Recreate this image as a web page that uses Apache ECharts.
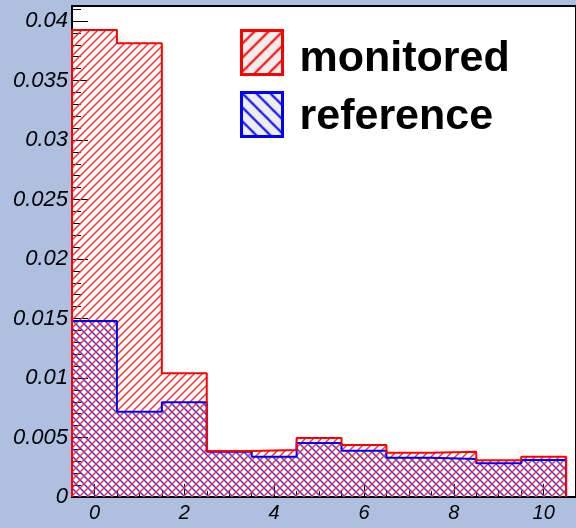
<!DOCTYPE html>
<html>
<head>
<meta charset="utf-8">
<script src="https://cdn.jsdelivr.net/npm/echarts@6.0.0/dist/echarts.min.js"></script>
<style>
  html, body { margin: 0; padding: 0; background: #afbfe0; }
  #main { width: 576px; height: 528px; }
</style>
</head>
<body>
<div id="main"></div>
<script>
// bin centres (bin width 1)
var binCenters = [0, 1, 2, 3, 4, 5, 6, 7, 8, 9, 10];
var monitored = [0.03924, 0.03812, 0.01039, 0.00387, 0.00394, 0.00496, 0.00437, 0.00372, 0.00381, 0.00308, 0.00339];
var reference = [0.01479, 0.00717, 0.00796, 0.00380, 0.00339, 0.00454, 0.00389, 0.00330, 0.00319, 0.00283, 0.00311];
var xTickLabels = [0, 2, 4, 6, 8, 10];
var yTickLabels = [0, 0.005, 0.01, 0.015, 0.02, 0.025, 0.03, 0.035, 0.04];

var xMin = -0.5, xMax = 10.72, yMax = 0.04126;

// hatch pattern canvas, dir 1 = "/" , -1 = "\"
function hatch(size, color, width, dir, bg) {
    var c = document.createElement('canvas');
    c.width = size; c.height = size;
    var ctx = c.getContext('2d');
    if (bg) { ctx.fillStyle = bg; ctx.fillRect(0, 0, size, size); }
    ctx.strokeStyle = color;
    ctx.lineWidth = width;
    ctx.beginPath();
    for (var k = -1; k <= 1; k++) {
        if (dir > 0) {
            ctx.moveTo(k * size - 1, size + 1);
            ctx.lineTo(k * size + size + 1, -1);
        } else {
            ctx.moveTo(k * size - 1, -1);
            ctx.lineTo(k * size + size + 1, size + 1);
        }
    }
    ctx.stroke();
    return { image: c, repeat: 'repeat' };
}

// outline points of a step histogram
function stepPoints(vals) {
    var pts = [[binCenters[0] - 0.5, 0]];
    for (var i = 0; i < vals.length; i++) {
        pts.push([binCenters[i] + 0.5, vals[i]]);
    }
    pts.push([binCenters[binCenters.length - 1] + 0.5, 0]);
    return pts;
}

var labelFont = { fontFamily: 'Liberation Sans', fontStyle: 'italic', color: '#000' };

var myChart = echarts.init(document.getElementById('main'));
var option = {
    backgroundColor: '#afbfe0',
    animation: false,
    grid: {
        left: 72, top: 6, bottom: 31, right: -20,
        show: true, backgroundColor: '#fff', borderColor: '#000', borderWidth: 2
    },
    legend: {
        orient: 'vertical',
        left: 240, top: 29, padding: 0,
        itemWidth: 41, itemHeight: 44, itemGap: 10,
        selectedMode: false,
        formatter: function (name) {
            return '{' + (name === 'monitored' ? 'a' : 'b') + '|' + name + '}';
        },
        textStyle: {
            fontFamily: 'Liberation Sans', fontWeight: 'bold', fontSize: 43, color: '#000',
            rich: {
                a: { fontFamily: 'Liberation Sans', fontWeight: 'bold', fontSize: 43, padding: [14, 0, 0, 12] },
                b: { fontFamily: 'Liberation Sans', fontWeight: 'bold', fontSize: 43, padding: [5, 0, 0, 12] }
            }
        },
        data: [
            { name: 'monitored', icon: 'rect',
              itemStyle: { color: hatch(14, '#f00', 2, 1, '#eeeeee'), borderColor: '#f00', borderWidth: 3 } },
            { name: 'reference', icon: 'rect',
              itemStyle: { color: hatch(14, '#00f', 2, -1, '#eeeeee'), borderColor: '#00f', borderWidth: 3 } }
        ]
    },
    xAxis: [{
        type: 'value', min: xMin, max: xMax,
        axisLine: { onZero: false, lineStyle: { color: '#000', width: 2 } },
        splitLine: { show: false },
        axisTick: { inside: true, length: 13, customValues: xTickLabels, lineStyle: { color: '#000' } },
        axisLabel: Object.assign({ fontSize: 20, margin: 6, customValues: xTickLabels }, labelFont)
    }, {
        // minor ticks
        type: 'value', min: xMin, max: xMax, interval: 0.5, position: 'bottom',
        axisLine: { show: false, onZero: false }, splitLine: { show: false }, axisLabel: { show: false },
        axisTick: { inside: true, length: 6, lineStyle: { color: '#000' } }
    }],
    yAxis: [{
        type: 'value', min: 0, max: yMax,
        axisLine: { show: true, onZero: false, lineStyle: { color: '#000', width: 2 } },
        splitLine: { show: false },
        axisTick: { show: true, inside: true, length: 16, customValues: yTickLabels, lineStyle: { color: '#000' } },
        axisLabel: Object.assign({
            fontSize: 22, margin: 4, customValues: yTickLabels,
            formatter: function (v) { return String(v); }
        }, labelFont)
    }, {
        // minor ticks
        type: 'value', min: 0, max: yMax, interval: 0.001, position: 'left',
        axisLine: { show: false, onZero: false }, splitLine: { show: false }, axisLabel: { show: false },
        axisTick: { show: true, inside: true, length: 9, lineStyle: { color: '#000' } }
    }],
    series: [{
        name: 'reference', type: 'line', step: 'start',
        showSymbol: false, symbol: 'none',
        data: stepPoints(reference),
        lineStyle: { color: '#00f', width: 2 },
        itemStyle: { color: '#00f' },
        areaStyle: { color: hatch(8, '#3030ff', 1.5, -1), opacity: 1 }
    }, {
        name: 'monitored', type: 'line', step: 'start',
        showSymbol: false, symbol: 'none',
        data: stepPoints(monitored),
        lineStyle: { color: '#f00', width: 2 },
        itemStyle: { color: '#f00' },
        areaStyle: { color: hatch(8, '#ff3030', 1.5, 1), opacity: 1 }
    }]
};
myChart.setOption(option);
</script>
</body>
</html>
